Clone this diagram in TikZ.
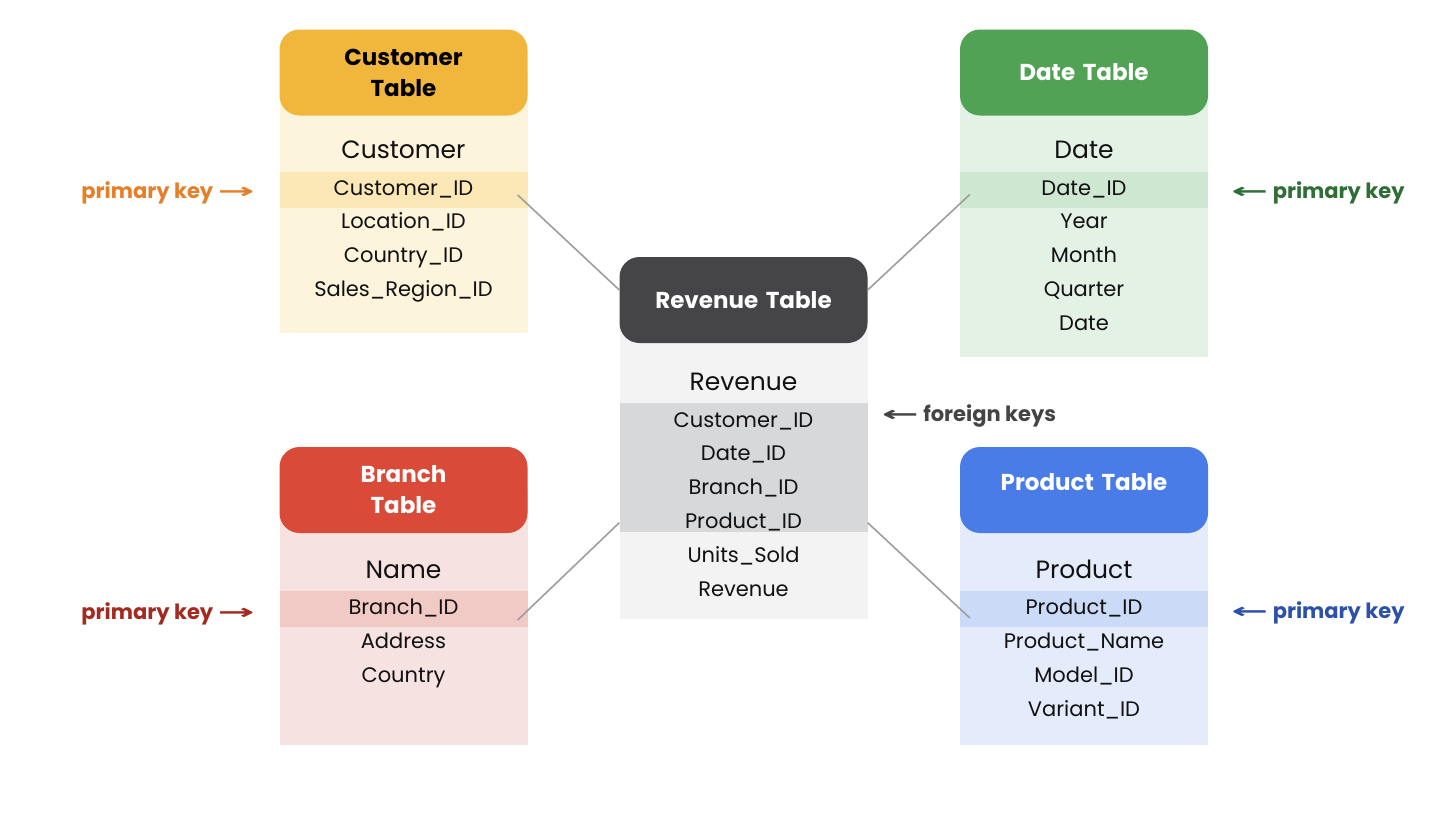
\documentclass[tikz,border=0pt]{standalone}
\usepackage{fontspec}
\setmainfont{Poppins}
\newfontfamily\symfont{DejaVu Sans}
\usepackage{xcolor}
\usetikzlibrary{positioning}

\definecolor{custhead}{HTML}{F1B73D}
\definecolor{custbody}{HTML}{FDF4DC}
\definecolor{custkey}{HTML}{FBE8B6}
\definecolor{datehead}{HTML}{52A256}
\definecolor{datebody}{HTML}{E4F1E5}
\definecolor{datekey}{HTML}{CDE7D0}
\definecolor{revhead}{HTML}{454547}
\definecolor{revbody}{HTML}{F3F3F3}
\definecolor{revkey}{HTML}{D7D8DA}
\definecolor{branchhead}{HTML}{D94B38}
\definecolor{branchbody}{HTML}{F6E2E0}
\definecolor{branchkey}{HTML}{F1CAC5}
\definecolor{prodhead}{HTML}{4A7CE7}
\definecolor{prodbody}{HTML}{E4ECFB}
\definecolor{prodkey}{HTML}{CBDAF7}
\definecolor{custnote}{HTML}{E47F2A}
\definecolor{datenote}{HTML}{2F6E35}
\definecolor{branchnote}{HTML}{A32A1F}
\definecolor{prodnote}{HTML}{2D51A8}
\definecolor{revnote}{HTML}{444444}
\definecolor{linkgray}{HTML}{9E9E9E}
\definecolor{fieldtext}{HTML}{111111}

\newcommand{\rarr}{{\symfont\bfseries\scalebox{2.1}[1]{→}}}
\newcommand{\larr}{{\symfont\bfseries\scalebox{2.1}[1]{←}}}

\tikzset{
    tblhead/.style={rectangle, rounded corners=20pt, minimum width=248pt, minimum height=86pt, text width=220pt, align=center, font=\bfseries\fontsize{23}{31}\selectfont},
    tblbody/.style={rectangle, minimum width=248pt, anchor=north, inner sep=0pt},
    keyrow/.style={rectangle, minimum width=248pt, minimum height=36pt, inner sep=0pt},
    field/.style={font=\fontsize{21}{25}\selectfont, text=fieldtext, inner sep=0pt, text height=17pt, text depth=6pt},
    tblname/.style={font=\fontsize{25}{29}\selectfont, text=fieldtext, inner sep=0pt, text height=19pt, text depth=7pt},
    keynote/.style={font=\bfseries\fontsize{21}{25}\selectfont, anchor=base},
    link/.style={draw=linkgray, line width=1.6pt}
}

\begin{document}
\begin{tikzpicture}[x=1pt, y=-1pt, node distance=10.5pt]
    \useasboundingbox[fill=white] (0,0) rectangle (1440,812);

    % Customer table
    \node [tblbody, fill=custbody, minimum height=260pt] (custbody) at (403.5,73) {};
    \node [keyrow, fill=custkey] (custkey) at (403.5,189.5) {};
    \node [tblhead, fill=custhead] (custhead) at (403.5,72.5) {Customer\\Table};
    \node [field] (custid) at (custkey) {Customer\_ID};
    \node [tblname, above=12pt of custid] (cust) {Customer};
    \node [field, below=of custid] (custloc) {Location\_ID};
    \node [field, below=of custloc] (custcountry) {Country\_ID};
    \node [field, below=of custcountry] (custregion) {Sales\_Region\_ID};

    % Date table
    \node [tblbody, fill=datebody, minimum height=284pt] (datebody) at (1084,73) {};
    \node [keyrow, fill=datekey] (datekey) at (1084,189.5) {};
    \node [tblhead, fill=datehead, text=white] (datehead) at (1084,72.5) {Date Table};
    \node [field] (dateid) at (datekey) {Date\_ID};
    \node [tblname, above=12pt of dateid] (date) {Date};
    \node [field, below=of dateid] (dateyear) {Year};
    \node [field, below=of dateyear] (datemonth) {Month};
    \node [field, below=of datemonth] (datequarter) {Quarter};
    \node [field, below=of datequarter] (dateday) {Date};

    % Revenue table
    \node [tblbody, fill=revbody, minimum height=319pt] (revbody) at (743.5,300) {};
    \node [keyrow, fill=revkey, minimum height=129pt] (revkeys) at (743.5,467) {};
    \node [tblhead, fill=revhead, text=white] (revhead) at (743.5,300) {Revenue Table};
    \node [field] (revcust) at (743.5,421.5) {Customer\_ID};
    \node [tblname, above=12pt of revcust] (rev) {Revenue};
    \node [field, below=of revcust] (revdate) {Date\_ID};
    \node [field, below=of revdate] (revbranch) {Branch\_ID};
    \node [field, below=of revbranch] (revprod) {Product\_ID};
    \node [field, below=of revprod] (revunits) {Units\_Sold};
    \node [field, below=of revunits] (revamount) {Revenue};

    % Branch table
    \node [tblbody, fill=branchbody, minimum height=255pt] (branchbody) at (403.5,490) {};
    \node [keyrow, fill=branchkey] (branchkey) at (403.5,609) {};
    \node [tblhead, fill=branchhead, text=white] (branchhead) at (403.5,490) {Branch\\Table};
    \node [field] (branchid) at (branchkey) {Branch\_ID};
    \node [tblname, above=12pt of branchid] (branch) {Name};
    \node [field, below=of branchid] (branchaddr) {Address};
    \node [field, below=of branchaddr] (branchcountry) {Country};

    % Product table
    \node [tblbody, fill=prodbody, minimum height=255pt] (prodbody) at (1084,490) {};
    \node [keyrow, fill=prodkey] (prodkey) at (1084,609) {};
    \node [tblhead, fill=prodhead, text=white] (prodhead) at (1084,490) {Product Table\\[-15pt]~};
    \node [field] (prodid) at (prodkey) {Product\_ID};
    \node [tblname, above=12pt of prodid] (prod) {Product};
    \node [field, below=of prodid] (prodname) {Product\_Name};
    \node [field, below=of prodname] (prodmodel) {Model\_ID};
    \node [field, below=of prodmodel] (prodvariant) {Variant\_ID};

    % Key notes
    \node [keynote, text=custnote] (custnote) at (168,198) {primary key \rarr};
    \node [keynote, text=datenote] (datenote) at (1318,198) {\larr{} primary key};
    \node [keynote, text=branchnote] (branchnote) at (168,619) {primary key \rarr};
    \node [keynote, text=prodnote] (prodnote) at (1318,618) {\larr{} primary key};
    \node [keynote, text=revnote] (revnote) at (969,421) {\larr{} foreign keys};

    % Draw links
    \draw [link] ([xshift=-10pt,yshift=-5.5pt]custkey.east) -- ([yshift=10pt]revhead.west);
    \draw [link] ([xshift=10pt,yshift=-5pt]datekey.west) -- ([yshift=10pt]revhead.east);
    \draw [link] ([xshift=-10pt,yshift=-11pt]branchkey.east) -- ([yshift=9pt]revkeys.south west);
    \draw [link] ([yshift=9pt]revkeys.south east) -- ([xshift=10pt,yshift=-9pt]prodkey.west);
\end{tikzpicture}
\end{document}
